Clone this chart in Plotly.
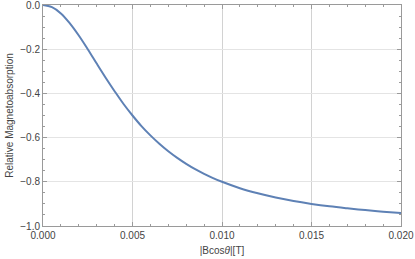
import plotly.graph_objects as go

b_field = [0.0, 0.0005, 0.001, 0.0015, 0.002, 0.0025, 0.003, 0.0035, 0.004, 0.0045,
           0.005, 0.0055, 0.006, 0.0065, 0.007, 0.0075, 0.008, 0.0085, 0.009, 0.0095,
           0.010, 0.011, 0.012, 0.013, 0.014, 0.015, 0.016, 0.017, 0.018, 0.019, 0.020]
rel_absorption = [0.0, -0.010, -0.038, -0.083, -0.138, -0.200, -0.265, -0.329, -0.390, -0.448,
                  -0.500, -0.548, -0.590, -0.628, -0.662, -0.692, -0.719, -0.743, -0.764, -0.783,
                  -0.800, -0.829, -0.852, -0.871, -0.887, -0.900, -0.911, -0.920, -0.928, -0.935, -0.941]
x_ticks = [0.0, 0.005, 0.010, 0.015, 0.020]
x_tick_labels = ["0.000", "0.005", "0.010", "0.015", "0.020"]
y_ticks = [0.0, -0.2, -0.4, -0.6, -0.8, -1.0]
y_tick_labels = ["0.0", "\u22120.2", "\u22120.4", "\u22120.6", "\u22120.8", "\u22121.0"]

fig = go.Figure()
fig.add_trace(go.Scatter(x=b_field, y=rel_absorption, mode="lines",
                         line=dict(color="#5E81B5", width=2, shape="spline"),
                         showlegend=False, hoverinfo="skip"))

FONT = "Liberation Sans, Arial"
axis_common = dict(
    showline=True, linecolor="#9a9a9a", linewidth=1, mirror="allticks",
    ticks="inside", ticklen=4, tickcolor="#9a9a9a", tickwidth=1,
    showgrid=True, gridwidth=1, zeroline=False,
    tickfont=dict(family=FONT, size=10, color="#444444"),
    automargin=False, ticklabeloverflow="allow",
)

fig.update_xaxes(
    range=[0, 0.020], tickvals=x_ticks, ticktext=x_tick_labels, gridcolor="#d2d2d2",
    minor=dict(ticks="inside", ticklen=2, tickcolor="#9a9a9a", dtick=0.001, showgrid=False),
    title=dict(text="|Bcos<i>θ</i>|[T]", font=dict(family=FONT, size=10, color="#444444"), standoff=6),
    **axis_common,
)
fig.update_yaxes(
    range=[-1.0, 0.0], tickvals=y_ticks, ticktext=y_tick_labels, gridcolor="#e4e4e4",
    minor=dict(ticks="inside", ticklen=2, tickcolor="#9a9a9a", dtick=0.05, showgrid=False),
    title=dict(text="Relative Magnetoabsorption", font=dict(family=FONT, size=10, color="#444444"), standoff=4),
    **axis_common,
)

fig.update_layout(
    width=415, height=259,
    margin=dict(l=43, r=14, t=5, b=33),
    plot_bgcolor="white", paper_bgcolor="white",
)

fig.write_html("out.html", config={"displayModeBar": False},
               post_script="document.body.style.margin='0';")
